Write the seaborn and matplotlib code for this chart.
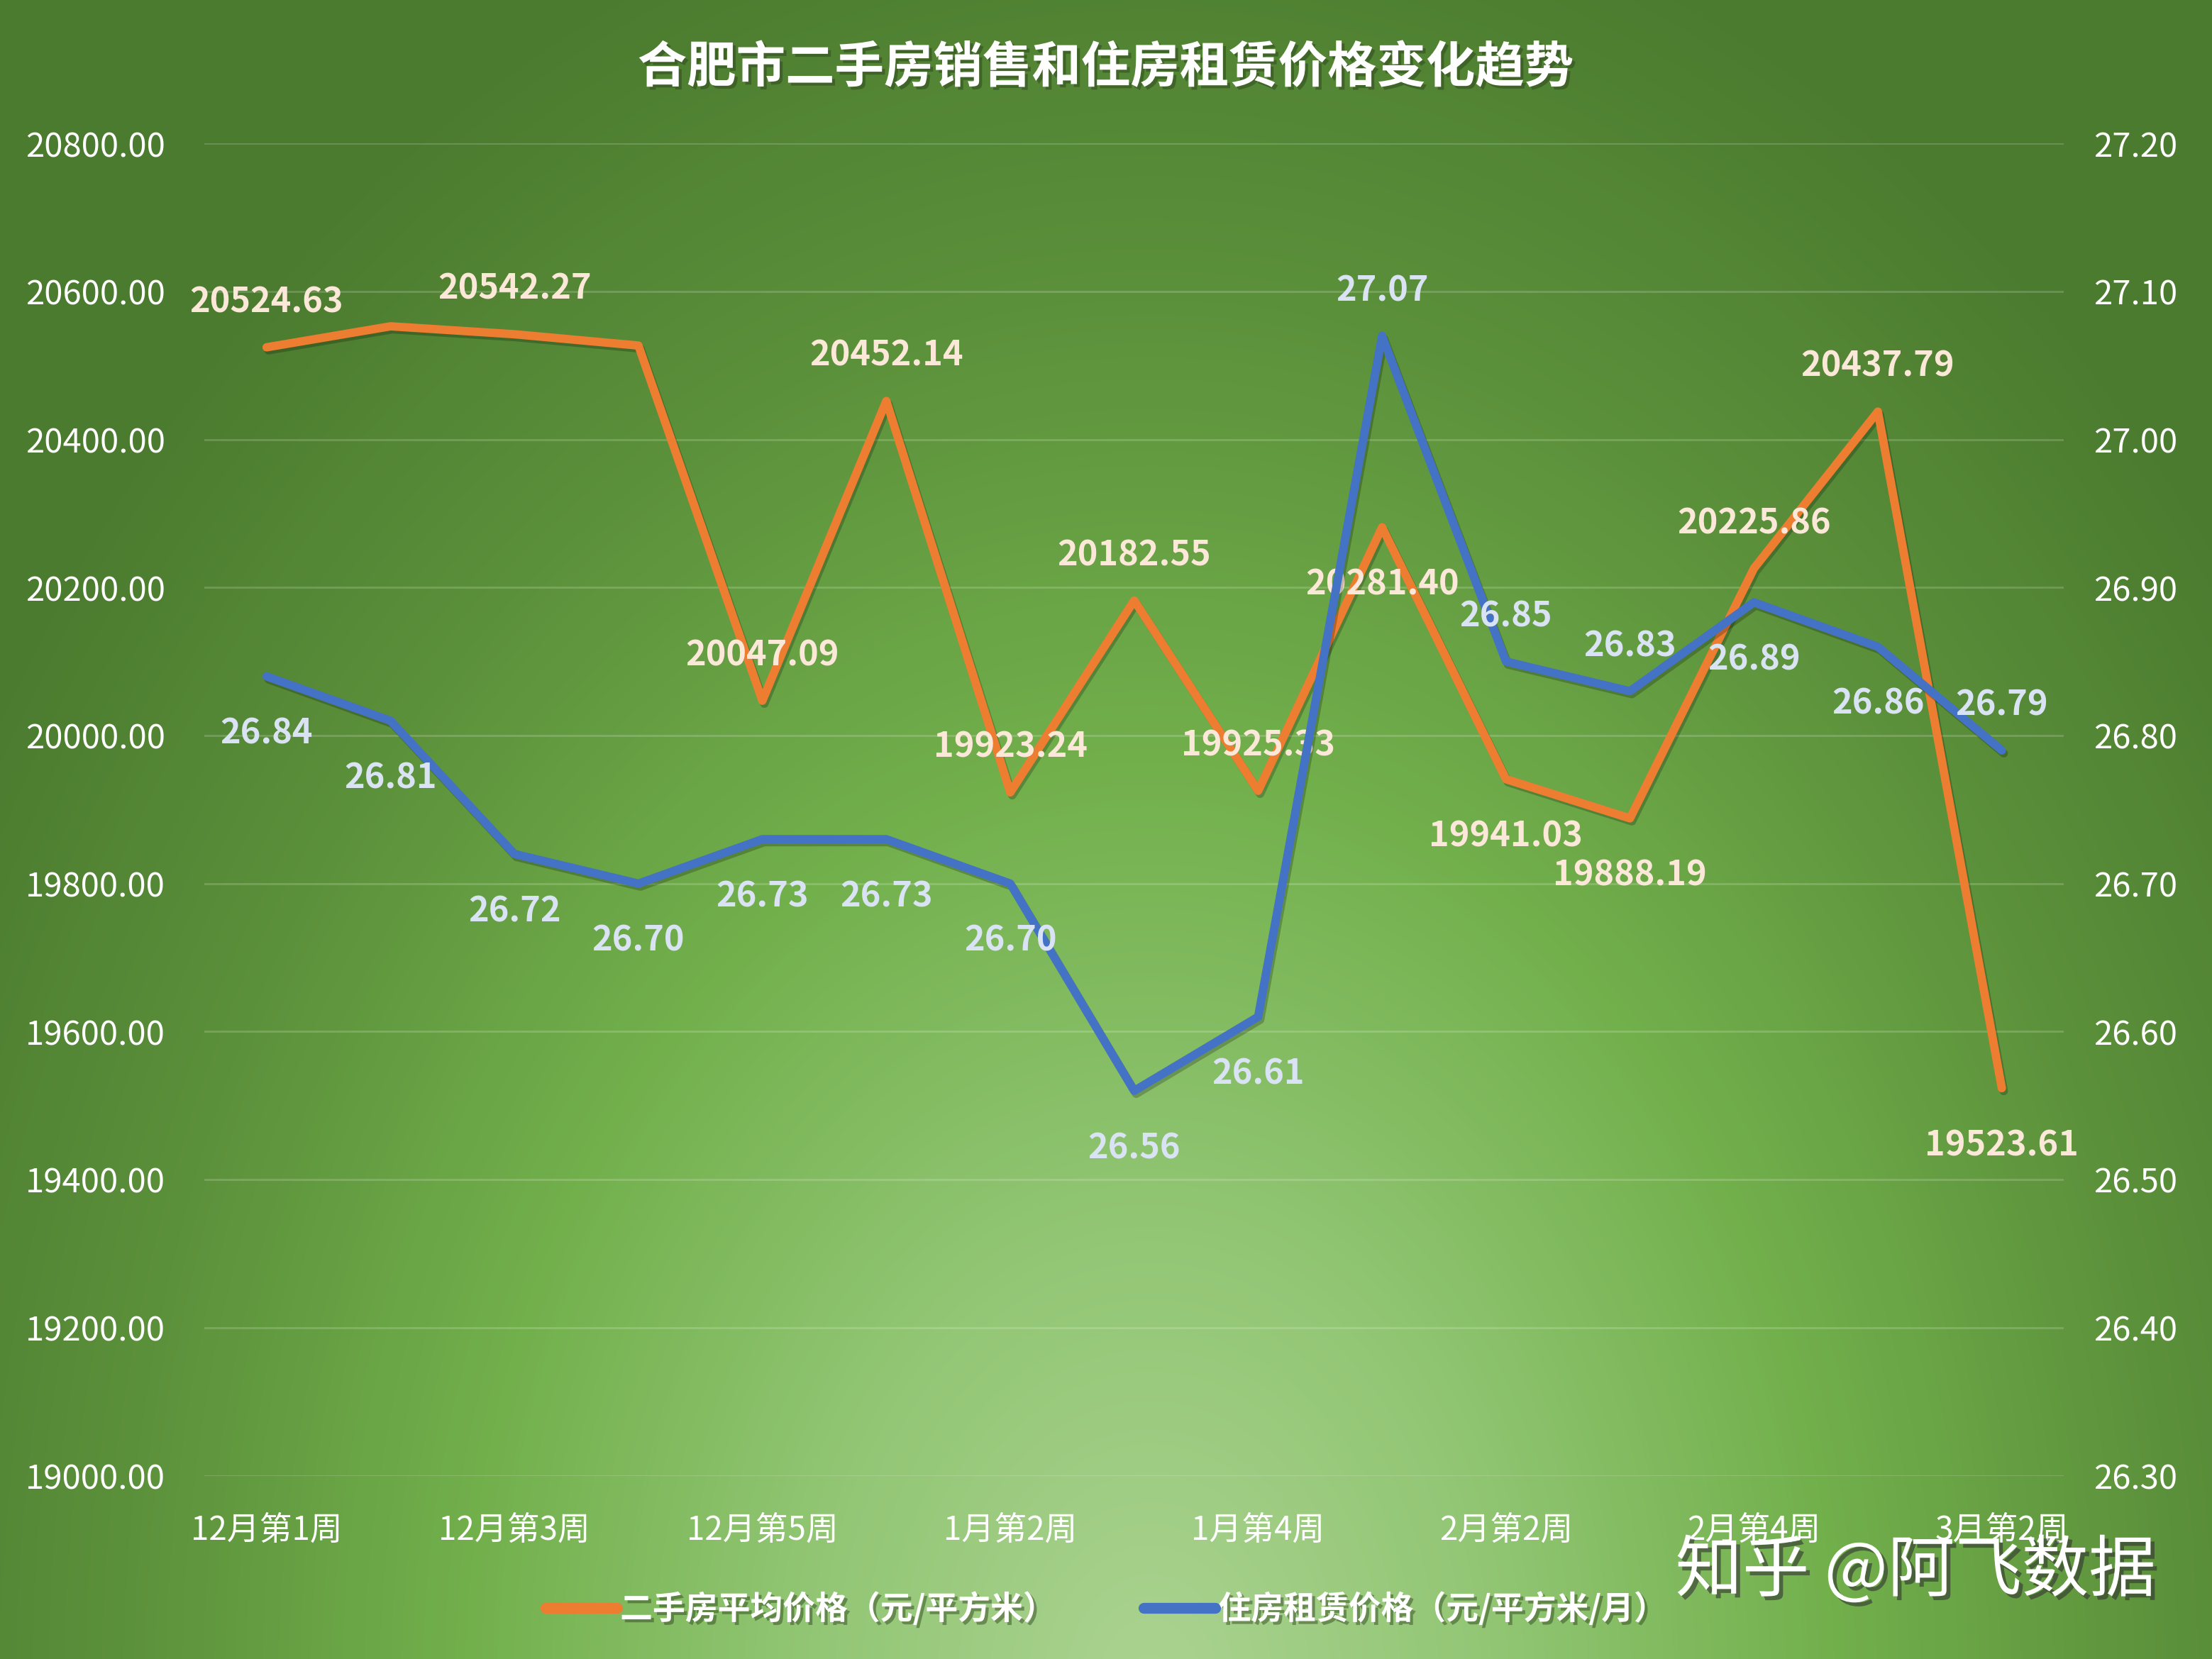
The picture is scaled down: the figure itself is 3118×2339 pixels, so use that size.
import numpy as np
import pandas as pd
import matplotlib
matplotlib.use('Agg')
import matplotlib.pyplot as plt
import matplotlib.patheffects as pe
from matplotlib.colors import LinearSegmentedColormap
import seaborn as sns

# ---------------- data ----------------
weeks = ['12月第1周', '12月第2周', '12月第3周', '12月第4周', '12月第5周',
         '1月第1周', '1月第2周', '1月第3周', '1月第4周', '2月第1周',
         '2月第2周', '2月第3周', '2月第4周', '3月第1周', '3月第2周']
sale_price = [20524.63, 20553.00, 20542.27, 20527.00, 20047.09,
              20452.14, 19923.24, 20182.55, 19925.33, 20281.40,
              19941.03, 19888.19, 20225.86, 20437.79, 19523.61]
rent_price = [26.84, 26.81, 26.72, 26.70, 26.73,
              26.73, 26.70, 26.56, 26.61, 27.07,
              26.85, 26.83, 26.89, 26.86, 26.79]
sale_label_side = ['up', None, 'up', None, 'up', 'up', 'up', 'up', 'up',
                   'down', 'down', 'down', 'up', 'up', 'down']
rent_label_side = ['down', 'down', 'down', 'down', 'down', 'down', 'down', 'down',
                   'down', 'up', 'up', 'up', 'down', 'down', 'up']
left_ticks = [19000, 19200, 19400, 19600, 19800, 20000, 20200, 20400, 20600, 20800]
right_ticks = [26.30, 26.40, 26.50, 26.60, 26.70, 26.80, 26.90, 27.00, 27.10, 27.20]

title = '合肥市二手房销售和住房租赁价格变化趋势'
sale_name = '二手房平均价格（元/平方米）'
rent_name = '住房租赁价格（元/平方米/月）'
watermark = '知乎 @阿飞数据'

df = pd.DataFrame({'week': weeks, 'sale': sale_price, 'rent': rent_price})
df['pos'] = np.arange(len(df))

# ---------------- style ----------------
sns.set_theme(style='white')
plt.rcParams['font.family'] = ['Noto Sans CJK SC', 'DejaVu Sans']
plt.rcParams['axes.unicode_minus'] = False

ORANGE = '#ED7D31'
BLUE = '#4472C4'
ORANGE_LBL = '#FBE8D8'
BLUE_LBL = '#DAE3F3'

fig = plt.figure(figsize=(31.18, 23.39), dpi=100)

# background radial gradient
bg = fig.add_axes([0, 0, 1, 1], zorder=-10)
H, W = 470, 625
yy, xx = np.mgrid[0:1:H * 1j, 0:1:W * 1j]
d = np.sqrt(((xx - 0.52) / 0.62) ** 2 + ((yy - 1.02) / 1.12) ** 2)
cmap = LinearSegmentedColormap.from_list('g', [
    (0.0, '#abd391'), (0.25, '#92c674'), (0.5, '#72b04c'),
    (0.75, '#5c913b'), (1.0, '#4b7b2f')])
bg.imshow(np.clip(d, 0, 1), cmap=cmap, vmin=0, vmax=1, aspect='auto',
          interpolation='bilinear', extent=[0, 1, 0, 1], origin='upper')
bg.set_axis_off()

ax = fig.add_axes([0.0925, 0.1105, 0.8405, 0.8030])
ax.set_facecolor('none')
ax2 = ax.twinx()
ax2.set_facecolor('none')

shadow = [pe.SimpleLineShadow(offset=(2, -3), shadow_color='black', alpha=0.22),
          pe.Normal()]

sns.lineplot(data=df, x='pos', y='sale', ax=ax, color=ORANGE, linewidth=8.5,
             label=sale_name, legend=False)
sns.lineplot(data=df, x='pos', y='rent', ax=ax2, color=BLUE, linewidth=8.5,
             label=rent_name, legend=False)
for ln in ax.get_lines() + ax2.get_lines():
    ln.set_path_effects(shadow)
    ln.set_solid_capstyle('round')
    ln.set_solid_joinstyle('round')

ax.set_xlim(-0.5, len(weeks) - 0.5)
ax.set_ylim(19000, 20800)
ax2.set_ylim(26.30, 27.20)
ax.set_yticks(left_ticks)
ax.set_yticklabels([f'{v:.2f}' for v in left_ticks])
ax2.set_yticks(right_ticks)
ax2.set_yticklabels([f'{v:.2f}' for v in right_ticks])
ax.set_xticks(df['pos'][::2])
ax.set_xticklabels(df['week'][::2])
ax.set_xlabel('')
ax.set_ylabel('')
ax2.set_ylabel('')

for a in (ax, ax2):
    for s in a.spines.values():
        s.set_visible(False)
ax.tick_params(axis='y', length=0, pad=40, labelsize=34, labelcolor='white')
ax.tick_params(axis='x', length=0, pad=38, labelsize=33, labelcolor='white')
ax2.tick_params(axis='y', length=0, pad=30, labelsize=34, labelcolor='white')
for t in ax.get_yticklabels() + ax.get_xticklabels() + ax2.get_yticklabels():
    t.set_fontweight('light')

ax.grid(axis='y', color='white', alpha=0.18, linewidth=2)
ax.grid(axis='x', visible=False)
ax2.grid(False)

# data labels
UP, DOWN = 46, -58
for i, (v, side) in enumerate(zip(sale_price, sale_label_side)):
    if side is None:
        continue
    ax.annotate(f'{v:.2f}', (i, v), xytext=(0, UP if side == 'up' else DOWN),
                textcoords='offset points', ha='center', va='center',
                fontsize=35, fontweight='bold', color=ORANGE_LBL, zorder=5)
for i, (v, side) in enumerate(zip(rent_price, rent_label_side)):
    ax2.annotate(f'{v:.2f}', (i, v), xytext=(0, UP if side == 'up' else DOWN),
                 textcoords='offset points', ha='center', va='center',
                 fontsize=35, fontweight='bold', color=BLUE_LBL, zorder=5)

txt_shadow = [pe.SimplePatchShadow(offset=(3, -3), shadow_rgbFace='#2a3d1a', alpha=0.45),
              pe.Normal()]

fig.text(0.5, 0.959, title, ha='center', va='center', fontsize=50,
         fontweight='bold', color='white', path_effects=txt_shadow)

handles = [ax.get_lines()[0], ax2.get_lines()[0]]
leg = fig.legend(handles, [sale_name, rent_name], loc='center',
                 bbox_to_anchor=(0.5, 0.030), ncol=2, frameon=False,
                 prop={'size': 33, 'weight': 'bold'}, handlelength=2.2,
                 handletextpad=0.1, columnspacing=2.7)
for t in leg.get_texts():
    t.set_color('white')
    t.set_path_effects(txt_shadow)
for h in leg.legend_handles:
    h.set_linewidth(11)
    h.set_path_effects([pe.Normal()])

fig.text(0.866, 0.0526, watermark, ha='center', va='center', fontsize=68,
         color='white', path_effects=[pe.SimplePatchShadow(offset=(4, -4), shadow_rgbFace='#333333', alpha=0.6), pe.Normal()])

fig.savefig('out.png', dpi=100)
